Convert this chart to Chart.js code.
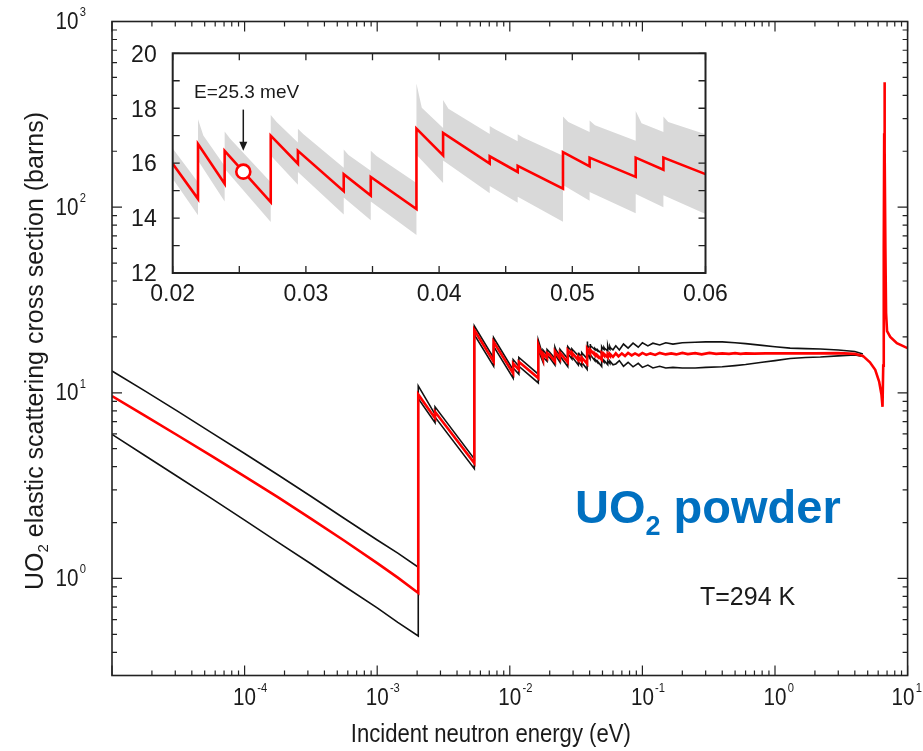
<!DOCTYPE html>
<html><head><meta charset="utf-8">
<script src="https://cdn.jsdelivr.net/npm/chart.js@4.4.1/dist/chart.umd.min.js"></script>
<style>
html,body{margin:0;padding:0;background:#fff;}
#wrap{position:relative;width:923px;height:751px;overflow:hidden;background:#fff;}
#main{position:absolute;left:0;top:0;}
#inset{position:absolute;left:125px;top:38px;}
</style></head><body>
<div id="wrap"><canvas id="main" width="923" height="751"></canvas><canvas id="inset" width="640" height="280"></canvas></div>
<script>
// ---------- main chart data (energy in eV, cross section in barns) ----------
const lowE   = [1e-5, 1.78e-5, 3.16e-5, 5.62e-5, 1e-4, 1.78e-4, 3.16e-4, 5.62e-4, 1e-3, 1.43e-3, 2.04e-3];
const lowRed = [9.6, 7.52, 5.87, 4.57, 3.55, 2.74, 2.10, 1.60, 1.21, 1.01, 0.835];
const lowHi  = [13.1, 10.2, 7.91, 6.1, 4.71, 3.62, 2.77, 2.11, 1.61, 1.37, 1.15];
const lowLo  = [5.97, 4.58, 3.52, 2.7, 2.06, 1.57, 1.20, 0.91, 0.694, 0.58, 0.49];

const braggE   = [2.04e-3, 2.73e-3, 2.73e-3, 5.40e-3, 5.40e-3, 7.55e-3, 7.55e-3, 1.06e-2, 1.06e-2, 1.17e-2, 1.17e-2, 1.64e-2, 1.64e-2];
const braggRed = [9.8, 7.3, 7.9, 4.18, 21.8, 14.7, 18.8, 12.7, 14.4, 13.3, 14.7, 12.0, 18.1];
const braggHi  = [10.9, 7.65, 8.4, 4.4, 22.9, 15.4, 19.8, 13.3, 15.1, 13.9, 15.5, 12.6, 19.2];
const braggLo  = [9.3, 6.9, 7.4, 3.9, 20.6, 13.9, 17.8, 12.0, 13.6, 12.6, 13.9, 11.3, 17.0];

const preE   = [0.0178, 0.0178, 0.0191, 0.0191];
const preRed = [15.2, 16.3, 15.4, 16.4];
const preHi  = [15.8, 17.0, 16.0, 17.1];
const preLo  = [14.6, 15.6, 14.8, 15.8];

// inset range (also used in the main plot)
const insetE   = [0.0200, 0.0219, 0.0219, 0.0239, 0.0239, 0.02736, 0.02736, 0.0294, 0.0294, 0.03284, 0.03284, 0.03487, 0.03487, 0.0383, 0.0383, 0.0403, 0.0403, 0.0438, 0.0438, 0.0459, 0.0459, 0.0493, 0.0493, 0.0513, 0.0513, 0.05476, 0.05476, 0.05684, 0.05684, 0.0600];
const insetRed = [15.98, 14.70, 16.70, 15.25, 16.45, 14.58, 17.00, 15.98, 16.45, 14.98, 15.60, 14.82, 15.50, 14.33, 17.26, 16.28, 17.10, 15.98, 16.25, 15.68, 15.90, 15.07, 16.40, 15.88, 16.20, 15.50, 16.20, 15.76, 16.20, 15.60];
const insetLo  = [15.43, 14.10, 16.10, 14.60, 15.80, 13.86, 16.28, 15.21, 15.68, 14.13, 14.75, 13.92, 14.60, 13.38, 16.31, 15.28, 16.10, 14.90, 15.17, 14.56, 14.78, 13.87, 15.20, 14.63, 14.95, 14.18, 14.88, 14.39, 14.83, 14.15];
const insetHiE = [0.0200, 0.0219, 0.0219, 0.0223, 0.0239, 0.0239, 0.0243, 0.02736, 0.02736, 0.0278, 0.0294, 0.0294, 0.0298, 0.03284, 0.03284, 0.0332, 0.03487, 0.03487, 0.0353, 0.0383, 0.0383, 0.0387, 0.0403, 0.0403, 0.0407, 0.0438, 0.0438, 0.0442, 0.0459, 0.0459, 0.0463, 0.0493, 0.0493, 0.0497, 0.0513, 0.0513, 0.0517, 0.05476, 0.05476, 0.0552, 0.05684, 0.05684, 0.0572, 0.0600];
const insetHi  = [16.53, 15.30, 17.60, 17.01, 15.90, 17.15, 16.90, 15.30, 17.75, 17.50, 16.75, 17.25, 17.06, 15.83, 16.50, 16.30, 15.72, 16.45, 16.26, 15.28, 18.90, 18.02, 17.28, 18.30, 17.98, 17.06, 17.35, 17.23, 16.80, 17.05, 16.93, 16.27, 17.70, 17.50, 17.13, 17.55, 17.38, 16.82, 17.90, 17.45, 17.13, 17.70, 17.50, 17.05];

const highE   = [0.063, 0.066, 0.07, 0.074, 0.078, 0.083, 0.088, 0.094, 0.10, 0.107, 0.115, 0.125, 0.135, 0.15, 0.165, 0.18, 0.2, 0.22, 0.25, 0.28, 0.32, 0.36, 0.4, 0.45, 0.5, 0.55, 0.6, 0.7, 0.85, 1.0, 1.5, 2.0, 3.0, 4.0];
const highRed = [16.3, 15.7, 16.3, 15.8, 16.4, 15.9, 16.3, 15.9, 16.4, 16.0, 16.3, 16.0, 16.4, 16.1, 16.3, 16.1, 16.4, 16.15, 16.35, 16.1, 16.4, 16.2, 16.3, 16.2, 16.35, 16.2, 16.3, 16.25, 16.3, 16.3, 16.3, 16.3, 16.35, 16.2];

const envE  = [0.063, 0.067, 0.072, 0.078, 0.085, 0.093, 0.10, 0.11, 0.12, 0.135, 0.15, 0.17, 0.2, 0.25, 0.3, 0.4, 0.5, 0.6, 0.8, 1.0, 1.3, 1.7, 2.2, 3.0, 4.0, 4.6];
const envHi = [17.9, 17.0, 18.3, 17.4, 18.5, 17.6, 18.6, 17.9, 18.5, 18.1, 18.6, 18.3, 18.6, 18.7, 18.8, 18.8, 18.6, 18.4, 18.0, 17.7, 17.4, 17.3, 17.2, 17.0, 16.7, 16.2];
const envLo = [14.3, 14.9, 13.9, 14.6, 13.8, 14.4, 13.7, 14.1, 13.6, 13.9, 13.6, 13.7, 13.6, 13.6, 13.7, 13.8, 14.0, 14.2, 14.6, 14.9, 15.3, 15.5, 15.6, 15.8, 16.0, 15.7];

const resE   = [4.6, 5.2, 5.7, 6.1, 6.35, 6.47, 6.55, 6.61, 6.66, 6.69, 6.71, 6.74, 6.80, 6.88, 7.0, 7.4, 8.3, 10];
const resRed = [15.8, 14.6, 13.3, 11.5, 9.8, 8.4, 14, 60, 250, 470, 470, 200, 60, 27, 21.5, 20.0, 18.5, 17.4];

// thermal point marker in inset
const markerE = [0.0253];
const markerS = [15.69];

// tick labels
const xTickExps = [-4, -3, -2, -1, 0, 1];
const yTickExps = [0, 1, 2, 3];
const insetXTicks = [0.02, 0.03, 0.04, 0.05, 0.06];
const insetYTicks = [12, 14, 16, 18, 20];

// texts
const xTitle = 'Incident neutron energy (eV)';
const yTitleParts = ['UO', '2', ' elastic scattering cross section (barns)'];
const tempLabel = 'T=294 K';
const sampleParts = ['UO', '2', ' powder'];
const markerLabel = 'E=25.3 meV';

// ---------- helpers ----------
const FONT = '"Liberation Sans", Arial, Helvetica, sans-serif';
const INK = '#1a1a1a';
const pts = (xs, ys) => xs.map((v, i) => ({x: v, y: ys[i]}));
function setFont(ctx, size, bold) { ctx.font = (bold ? 'bold ' : '') + size + 'px ' + FONT; }
function tw(ctx, s, size, bold, sx) { ctx.save(); setFont(ctx, size, bold); const w = ctx.measureText(s).width * (sx || 1); ctx.restore(); return w; }
function sText(ctx, s, x, y, size, o) {
  o = o || {};
  ctx.save();
  setFont(ctx, size, o.bold);
  ctx.fillStyle = o.color || INK;
  ctx.textBaseline = o.baseline || 'alphabetic';
  ctx.textAlign = o.align || 'left';
  ctx.translate(x, y);
  if (o.rot) ctx.rotate(o.rot);
  ctx.scale(o.sx || 1, 1);
  ctx.fillText(s, 0, 0);
  ctx.restore();
}
function pow10(ctx, exp, x, yc, mode, maxRight) {
  const SX = 0.86, B = 24, S = 13, GAP = 1.2;
  const base = '10', sup = String(exp);
  const wb = tw(ctx, base, B, false, SX), ws = tw(ctx, sup, S, false, SX);
  let bx = mode === 'y' ? x - ws - GAP - wb : x - wb / 2;
  if (maxRight && bx + wb + GAP + ws > maxRight) bx = maxRight - (wb + GAP + ws);
  sText(ctx, base, bx, yc + 8.6, B, {sx: SX});
  sText(ctx, sup, bx + wb + GAP, yc - 4.2, S, {sx: SX});
}

// ---------- main chart decorations ----------
const mainDeco = {
  id: 'mainDeco',
  afterDraw(chart) {
    const {ctx, chartArea: a, scales: {x, y}} = chart;
    ctx.save();
    ctx.strokeStyle = '#222';
    ctx.lineWidth = 1.2;
    ctx.beginPath();
    for (let e = -5; e <= 1; e++) for (let k = 1; k <= 9; k++) {
      const v = k * Math.pow(10, e);
      if (v < 1e-5 * 0.999 || v > 10 * 1.001) continue;
      const px = x.getPixelForValue(v), L = k === 1 ? 10 : 5;
      ctx.moveTo(px, a.bottom); ctx.lineTo(px, a.bottom - L);
      ctx.moveTo(px, a.top); ctx.lineTo(px, a.top + L);
    }
    for (let e = -1; e <= 3; e++) for (let k = 1; k <= 9; k++) {
      const v = k * Math.pow(10, e);
      if (v < 0.3 * 0.999 || v > 1000 * 1.001) continue;
      const py = y.getPixelForValue(v), L = k === 1 ? 10 : 5;
      ctx.moveTo(a.left, py); ctx.lineTo(a.left + L, py);
      ctx.moveTo(a.right, py); ctx.lineTo(a.right - L, py);
    }
    ctx.stroke();
    ctx.lineWidth = 1.6;
    ctx.strokeRect(a.left, a.top, a.right - a.left, a.bottom - a.top);
    ctx.restore();

    yTickExps.forEach(e => pow10(ctx, e, 86, y.getPixelForValue(Math.pow(10, e)) - 1, 'y'));
    xTickExps.forEach(e => pow10(ctx, e, x.getPixelForValue(Math.pow(10, e)), 696, 'x', 922));

    // x title
    sText(ctx, xTitle, (a.left + a.right) / 2 - 19, 742, 26, {align: 'center', sx: 0.85});

    // y title (rotated, with subscript)
    ctx.save();
    const TS = 25, SS = 15;
    const w0 = tw(ctx, yTitleParts[0], TS), w1 = tw(ctx, yTitleParts[1], SS), w2 = tw(ctx, yTitleParts[2], TS);
    const W = w0 + w1 + w2;
    ctx.translate(43, 351);
    ctx.rotate(-Math.PI / 2);
    ctx.fillStyle = INK;
    let cx = -W / 2;
    setFont(ctx, TS); ctx.fillText(yTitleParts[0], cx, 0); cx += w0;
    setFont(ctx, SS); ctx.fillText(yTitleParts[1], cx, 5); cx += w1;
    setFont(ctx, TS); ctx.fillText(yTitleParts[2], cx, 0);
    ctx.restore();

    // annotations
    sText(ctx, tempLabel, 700, 605, 25);
    const BIG = 47, SUB = 27, blue = '#0070c0';
    let sx0 = 575;
    sText(ctx, sampleParts[0], sx0, 523, BIG, {bold: true, color: blue});
    sx0 += tw(ctx, sampleParts[0], BIG, true);
    sText(ctx, sampleParts[1], sx0, 535, SUB, {bold: true, color: blue});
    sx0 += tw(ctx, sampleParts[1], SUB, true);
    sText(ctx, sampleParts[2], sx0, 523, BIG, {bold: true, color: blue});
  }
};

const lineDS = (data, color, width, order) => ({data, borderColor: color, borderWidth: width, pointRadius: 0, fill: false, tension: 0, order});

new Chart(document.getElementById('main'), {
  type: 'line',
  data: {datasets: [
    lineDS([...pts(lowE, lowHi), ...pts(braggE, braggHi), ...pts(preE, preHi), ...pts(insetHiE, insetHi), ...pts(envE, envHi)], '#111', 1.6, 2),
    lineDS([...pts(lowE, lowLo), ...pts(braggE, braggLo), ...pts(preE, preLo), ...pts(insetE, insetLo), ...pts(envE, envLo)], '#111', 1.6, 2),
    lineDS([...pts(lowE, lowRed), ...pts(braggE, braggRed), ...pts(preE, preRed), ...pts(insetE, insetRed), ...pts(highE, highRed), ...pts(resE, resRed)], '#ff0000', 2.6, 0)
  ]},
  options: {
    responsive: false, animation: false, devicePixelRatio: 1, events: [],
    layout: {padding: {left: 112, right: 15.4, top: 21.5, bottom: 75.5}},
    scales: {
      x: {type: 'logarithmic', min: 1e-5, max: 10, display: false},
      y: {type: 'logarithmic', min: 0.3, max: 1000, display: false}
    },
    plugins: {legend: {display: false}, tooltip: {enabled: false}}
  },
  plugins: [mainDeco]
});

// ---------- inset ----------
const insetDeco = {
  id: 'insetDeco',
  afterDraw(chart) {
    const {ctx, chartArea: a, scales: {x, y}} = chart;
    ctx.save();
    ctx.strokeStyle = '#222';
    ctx.lineWidth = 1.3;
    ctx.beginPath();
    for (let v = 0.02; v <= 0.0601; v += 0.005) {
      const px = x.getPixelForValue(v);
      ctx.moveTo(px, a.bottom); ctx.lineTo(px, a.bottom - 7);
      ctx.moveTo(px, a.top); ctx.lineTo(px, a.top + 7);
    }
    for (let v = 12; v <= 20; v += 1) {
      const py = y.getPixelForValue(v);
      ctx.moveTo(a.left, py); ctx.lineTo(a.left + 7, py);
      ctx.moveTo(a.right, py); ctx.lineTo(a.right - 7, py);
    }
    ctx.stroke();
    ctx.lineWidth = 2;
    ctx.strokeRect(a.left, a.top, a.right - a.left, a.bottom - a.top);
    ctx.restore();

    insetXTicks.forEach(v => sText(ctx, v.toFixed(2), x.getPixelForValue(v), a.bottom + 28, 23, {align: 'center'}));
    insetYTicks.forEach(v => sText(ctx, String(v), a.left - 16, y.getPixelForValue(v) + 8.3, 23, {align: 'right'}));

    // arrow + label
    const ax = x.getPixelForValue(markerE[0]);
    const y0 = y.getPixelForValue(17.95), y1 = y.getPixelForValue(16.45);
    ctx.save();
    ctx.strokeStyle = '#1a1a1a'; ctx.fillStyle = '#1a1a1a'; ctx.lineWidth = 1.5;
    ctx.beginPath(); ctx.moveTo(ax, y0); ctx.lineTo(ax, y1 - 7); ctx.stroke();
    ctx.beginPath(); ctx.moveTo(ax - 4, y1 - 9); ctx.lineTo(ax + 4, y1 - 9); ctx.lineTo(ax, y1); ctx.closePath(); ctx.fill();
    ctx.restore();
    sText(ctx, markerLabel, x.getPixelForValue(0.02555), y.getPixelForValue(18.62) + 6.5, 19, {align: 'center'});
  }
};

new Chart(document.getElementById('inset'), {
  type: 'line',
  data: {datasets: [
    {data: pts(insetHiE, insetHi), borderColor: 'rgba(0,0,0,0)', backgroundColor: '#d9d9d9', borderWidth: 1, pointRadius: 0, fill: '+1', tension: 0, order: 3},
    {data: pts(insetE, insetLo), borderColor: 'rgba(0,0,0,0)', borderWidth: 1, pointRadius: 0, fill: false, tension: 0, order: 2},
    {data: pts(insetE, insetRed), borderColor: '#ff0000', borderWidth: 2.6, pointRadius: 0, fill: false, tension: 0, order: 1},
    {data: pts(markerE, markerS), showLine: false, pointRadius: 7, pointBorderWidth: 2.6, pointBorderColor: '#ff0000', pointBackgroundColor: '#ffffff', order: 0}
  ]},
  options: {
    responsive: false, animation: false, devicePixelRatio: 1, events: [],
    layout: {padding: {left: 47.7, right: 59.5, top: 15.3, bottom: 45}},
    scales: {
      x: {type: 'linear', min: 0.02, max: 0.06, display: false},
      y: {type: 'linear', min: 12, max: 20, display: false}
    },
    plugins: {legend: {display: false}, tooltip: {enabled: false}}
  },
  plugins: [insetDeco]
});
</script></body></html>
